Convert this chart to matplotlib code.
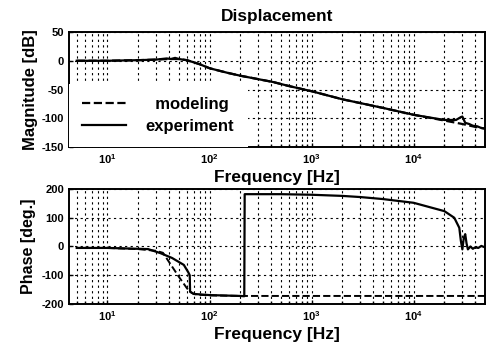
import numpy as np
import matplotlib
matplotlib.use("Agg")
import matplotlib.pyplot as plt
from matplotlib.ticker import LogLocator, NullFormatter

plt.rcParams['font.family'] = ['Liberation Sans', 'DejaVu Sans']
plt.rcParams['axes.unicode_minus'] = False
plt.rcParams['mathtext.fontset'] = 'custom'
plt.rcParams['mathtext.rm'] = 'Liberation Sans'

# Magnitude data (dB)
mag_model_f = [5, 10, 20, 30, 40, 50, 60, 80, 100, 150, 200, 300, 420, 600, 1000, 2000,
               5000, 10000, 20000, 30000, 40000, 50000]
mag_model_db = [0, 0, 1, 2, 3, 3, 1, -6, -13, -21, -26, -32, -37, -44, -53, -67,
                -82, -94, -104, -110, -115, -118]
mag_exp_f = [5, 10, 20, 30, 38, 42, 46, 50, 60, 80, 100, 150, 200, 300, 420, 600, 1000,
             2000, 5000, 10000, 20000, 26000, 29000, 30000, 32000, 35000, 38000, 42000,
             46000, 50000]
mag_exp_db = [0, 0, 1, 2, 4, 3, 5, 3, 1, -6, -13, -21, -26, -32, -37, -44, -53,
              -67, -82, -94, -103, -103, -98, -97, -108, -110, -113, -114, -117, -118]

# Phase data (deg)
ph_model_f = [5, 10, 20, 30, 35, 43, 50, 60, 64, 70, 80, 100, 200, 1000, 10000, 50000]
ph_model_deg = [-5, -5, -9, -15, -22, -70, -105, -145, -157, -165, -168, -170,
                -172, -172, -172, -172]
ph_exp_f = [5, 10, 20, 25, 33, 43, 56, 62, 64, 64.5, 70, 100, 200, 219, 221, 300, 500,
            1000, 2000, 3000, 5000, 10000, 15000, 20000, 25000, 28000, 29000, 30000, 31000,
            32000, 33000, 34000, 36000, 38000, 40000, 43000, 46000, 50000]
ph_exp_deg = [-5, -5, -8, -9, -23, -40, -64, -90, -100, -157, -165, -169, -172, -173,
              182, 182, 182, 180, 176, 172, 165, 152, 135, 123, 100, 65, 20, -10, 30,
              43, 10, -10, 0, -8, -3, -5, 2, -3]

fig = plt.figure(figsize=(4.86, 3.42), dpi=100)
W, H = 486, 342

def add_ax(l, t, r, b):
    return fig.add_axes([l / W, 1 - b / H, (r - l) / W, (b - t) / H])

ax1 = add_ax(69, 32, 485, 147)
ax2 = add_ax(69, 189, 485, 304)

gridkw = dict(color='black', linestyle=(0, (2, 3)), linewidth=0.8)
for ax in (ax1, ax2):
    ax.set_xscale('log')
    ax.set_xlim(4.2, 50000)
    ax.xaxis.set_major_locator(LogLocator(base=10, numticks=10))
    ax.xaxis.set_minor_locator(LogLocator(base=10, subs=np.arange(2, 10), numticks=20))
    ax.xaxis.set_minor_formatter(NullFormatter())
    ax.grid(True, which='major', axis='both', **gridkw)
    ax.grid(True, which='minor', axis='x', **gridkw)
    ax.tick_params(which='both', direction='in', labelsize=8, width=1, length=3)
    ax.tick_params(which='minor', length=2)
    for s in ax.spines.values():
        s.set_linewidth(1.4)

ax1.plot(mag_model_f, mag_model_db, color='black', linestyle='--', linewidth=1.6,
         label='  modeling', zorder=6)
ax1.plot(mag_exp_f, mag_exp_db, color='black', linestyle='-', linewidth=1.6,
         label='experiment', zorder=6)
ax1.set_ylim(-150, 50)
ax1.set_yticks([50, 0, -50, -100, -150])
ax1.set_title('Displacement', fontsize=12.4, fontweight='bold', pad=8)
ax1.set_xlabel('Frequency [Hz]', fontsize=12.5, fontweight='bold', labelpad=3)
ax1.set_ylabel('Magnitude [dB]', fontsize=12, fontweight='bold', labelpad=3)
leg = ax1.legend(loc='lower left', borderaxespad=0, frameon=True, fancybox=False,
                 fontsize=12, handlelength=2.6, handletextpad=1.2, labelspacing=0.4,
                 borderpad=0.8)
leg.get_frame().set_edgecolor('none')
leg.get_frame().set_facecolor('white')
leg.get_frame().set_alpha(1)
for t in leg.get_texts():
    t.set_fontweight('bold')

ax2.plot(ph_model_f, ph_model_deg, color='black', linestyle='--', linewidth=1.4)
ax2.plot(ph_exp_f, ph_exp_deg, color='black', linestyle='-', linewidth=1.6)
ax2.set_ylim(-200, 200)
ax2.set_yticks([200, 100, 0, -100, -200])
ax2.set_xlabel('Frequency [Hz]', fontsize=12.5, fontweight='bold', labelpad=3)
ax2.set_ylabel('Phase [deg.]', fontsize=11.5, fontweight='bold', labelpad=4)

for ax in (ax1, ax2):
    for lab in ax.get_xticklabels() + ax.get_yticklabels():
        lab.set_fontweight('bold')

fig.savefig('out.png', dpi=100)
